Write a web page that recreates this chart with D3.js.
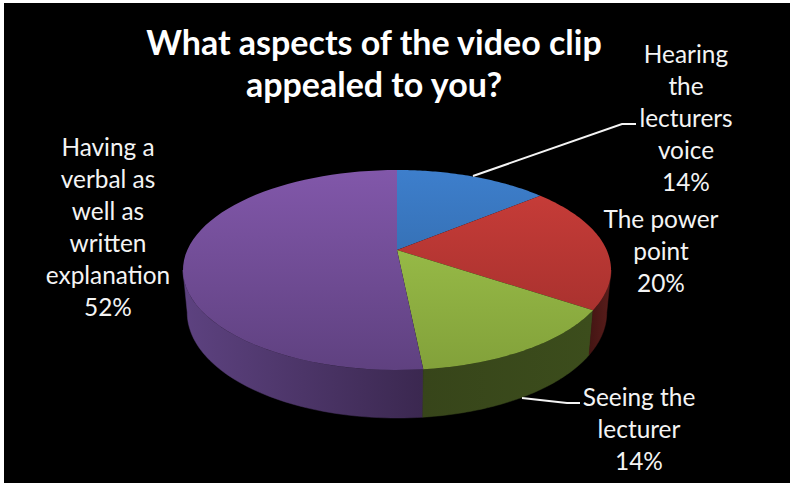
<!DOCTYPE html>
<html lang="en">
<head>
<meta charset="utf-8">
<title>What aspects of the video clip appealed to you?</title>
<script src="https://d3js.org/d3.v7.min.js"></script>
<style>
    html, body { margin: 0; padding: 0; background: #fff; }
    svg { display: block; }
    text { font-family: Lato, "Open Sans", sans-serif; fill: #fff; text-anchor: middle; }
    .title { font-size: 34px; font-weight: bold; }
    .label { font-size: 24.4px; fill: #f4f4f4; }
    .leader { fill: none; stroke: #f4f4f4; stroke-width: 2px; }
</style>
</head>
<body>
<script>
const categories = [
    ["Hearing", "the", "lecturers", "voice"],
    ["The power", "point"],
    ["Seeing the", "lecturer"],
    ["Having a", "verbal as", "well as", "written", "explanation"]
];
const shares = [14, 20.4, 14, 51.6];
const titleLines = ["What aspects of the video clip", "appealed to you?"];

const topColors = [["#3f81d0", "#2b5f98"], ["#cf3f3b", "#9c2d2a"], ["#a6cc50", "#82a13a"], ["#8459ad", "#5f4180"]];
const wallColors = [["#2b5f98", "#1c3f66"], ["#5a1d1b", "#431513"], ["#3c4d1c", "#37451a"], ["#5d4280", "#3b2850"]];

const w = 790, h = 484;
const cx = 397, cy = 250;
const persp = 0.2;      // foreshortening towards the back of the disc
const rx = 209.7, ry = 96;

const svg = d3.select("body").append("svg").attr("width", w).attr("height", h);
svg.append("rect").attr("x", 4).attr("y", 3).attr("width", w - 4).attr("height", 480).attr("fill", "#000");

// project a clockwise angle from 12 o'clock onto the tilted disc
function topPoint(a) {
    const u = Math.sin(a), v = -Math.cos(a);
    const d = 1 - persp * v;
    return [cx + rx * u / d, cy + ry * v / d];
}
function bottomPoint(a) {
    const p = topPoint(a), v = -Math.cos(a);
    return [cx + (p[0] - cx) * 0.98, p[1] + 41 + 7 * v];
}
const arcAngles = (a0, a1) => d3.range(0, 61).map(i => a0 + (a1 - a0) * i / 60);
const line = d3.line();

const arcs = d3.pie().sort(null).value(d => d)(shares);

const defs = svg.append("defs");
topColors.forEach((c, i) => {
    const g = defs.append("linearGradient").attr("id", "top" + i)
        .attr("gradientUnits", "userSpaceOnUse")
        .attr("x1", 0).attr("x2", 0).attr("y1", cy - ry).attr("y2", cy + 120);
    g.append("stop").attr("offset", 0).attr("stop-color", c[0]);
    g.append("stop").attr("offset", 1).attr("stop-color", c[1]);
});
wallColors.forEach((c, i) => {
    const g = defs.append("linearGradient").attr("id", "wall" + i)
        .attr("x1", i == 3 ? 0 : 1).attr("x2", i == 3 ? 1 : 0).attr("y1", 0).attr("y2", 0);
    g.append("stop").attr("offset", 0).attr("stop-color", c[0]);
    g.append("stop").attr("offset", 1).attr("stop-color", c[1]);
});

// side walls, only the part of the rim that faces the viewer
const wallStart = Math.PI - Math.acos(persp);   // right silhouette
const wallEnd = Math.PI + Math.acos(persp);     // left silhouette
[3, 2, 1].forEach(i => {
    const a0 = Math.max(arcs[i].startAngle, wallStart);
    const a1 = Math.min(arcs[i].endAngle, wallEnd);
    const angles = arcAngles(a0, a1);
    const pts = angles.map(topPoint).concat(angles.slice().reverse().map(bottomPoint));
    svg.append("path").attr("d", line(pts) + "Z")
        .attr("fill", `url(#wall${i})`)
        .attr("stroke", `url(#wall${i})`).attr("stroke-width", 0.5);
});

// top faces
arcs.forEach((d, i) => {
    const pts = [[cx, cy]].concat(arcAngles(d.startAngle, d.endAngle).map(topPoint));
    svg.append("path").attr("d", line(pts) + "Z").attr("fill", `url(#top${i})`);
});

// leader lines
svg.append("path").attr("class", "leader").attr("d", line([[473, 176], [622, 124], [636, 124]]));
svg.append("path").attr("class", "leader").attr("d", line([[522, 398], [567, 403], [580, 403]]));

// text
titleLines.forEach((t, i) => {
    svg.append("text").attr("class", "title").attr("x", 374).attr("y", 55 + i * 42).text(t);
});

const labelPos = [[686, 63], [661, 228], [639, 406], [108, 156]];
const lineStep = 32;
categories.forEach((lines, i) => {
    const rows = lines.concat(Math.round(shares[i]) + "%");
    rows.forEach((t, j) => {
        svg.append("text").attr("class", "label")
            .attr("x", labelPos[i][0]).attr("y", labelPos[i][1] + j * lineStep).text(t);
    });
});
</script>
</body>
</html>
